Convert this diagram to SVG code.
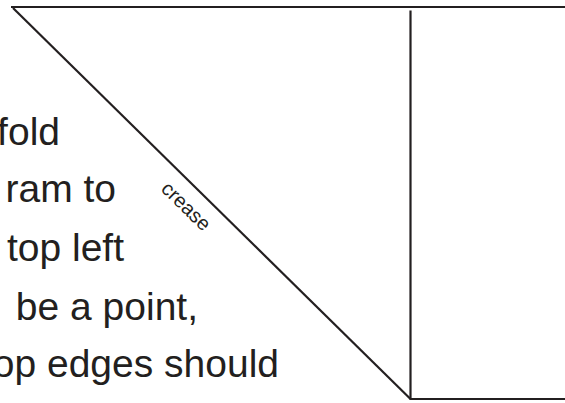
<svg xmlns="http://www.w3.org/2000/svg" width="565" height="403" viewBox="0 0 565 403">
  <style>
    .ln { stroke: #231f20; stroke-width: 2.2; fill: none; }
    .txt { font-family: "Liberation Sans", Arial, sans-serif; font-size: 39px; fill: #231f20; text-anchor: end; }
    .lbl { font-family: "Liberation Sans", Arial, sans-serif; font-size: 20px; fill: #231f20; text-anchor: middle; }
  </style>
  <rect width="565" height="403" fill="#ffffff"/>
  <g id="connectors">
    <line class="ln" x1="11" y1="7" x2="565" y2="7" stroke-width="2.6"/>
    <line class="ln" x1="13" y1="8" x2="410.5" y2="399"/>
    <line class="ln" x1="410.5" y1="10.5" x2="410.5" y2="399"/>
    <line class="ln" x1="409.5" y1="399" x2="565" y2="399"/>
  </g>
  <g id="crease-label">
    <text class="lbl" transform="translate(181.5,211) rotate(44.5)">crease</text>
  </g>
  <g id="instructions">
    <text class="txt" x="60" y="145">fold</text>
    <text class="txt" x="116" y="202">ram to</text>
    <text class="txt" x="124" y="261">top left</text>
    <text class="txt" x="198" y="320">be a point,</text>
    <text class="txt" x="279" y="377">op edges should</text>
  </g>
</svg>
